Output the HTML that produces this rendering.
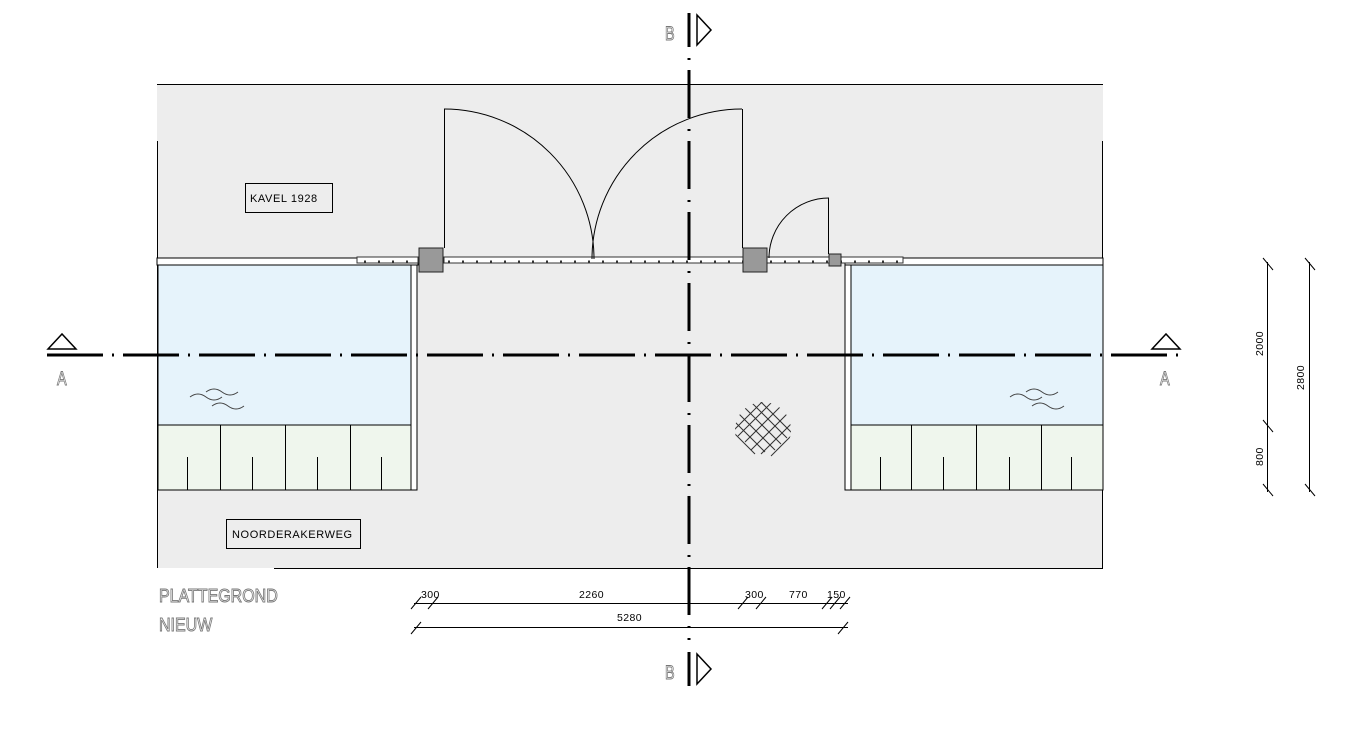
<!DOCTYPE html>
<html><head><meta charset="utf-8"><style>
body{margin:0;background:#fff;width:1347px;height:731px;overflow:hidden}
svg{display:block}
.t{font-family:"Liberation Sans",sans-serif;font-size:11px;fill:#000;letter-spacing:0.6px}
.o{font-family:"Liberation Sans",sans-serif;font-size:17px;fill:#fff;stroke:#777;stroke-width:0.8}
</style></head><body>
<svg width="1347" height="731" viewBox="0 0 1347 731">
<defs>
<pattern id="fence" x="0" y="0" width="14" height="6" patternUnits="userSpaceOnUse">
<rect width="14" height="6" fill="#fff"/><rect x="0" y="2.5" width="2" height="2" fill="#333"/>
</pattern>
</defs>
<rect x="157" y="84" width="946" height="484" fill="#ededed"/>
<line x1="157" y1="84.5" x2="1103" y2="84.5" stroke="#000"/>
<line x1="157.5" y1="141" x2="157.5" y2="568" stroke="#000"/>
<line x1="1102.5" y1="141" x2="1102.5" y2="568" stroke="#000"/>
<line x1="274" y1="568.5" x2="1103" y2="568.5" stroke="#000"/>
<rect x="157" y="258" width="261" height="7" fill="#fff" stroke="#000" stroke-width="1"/>
<rect x="158" y="265" width="253" height="160" fill="#e6f3fb" stroke="#000"/>
<rect x="411" y="265" width="6" height="225" fill="#fff" stroke="#000"/>
<rect x="158" y="425" width="253" height="65" fill="#eff6ed" stroke="#000"/>
<g stroke="#000"><line x1="220.5" y1="425" x2="220.5" y2="490"/><line x1="285.5" y1="425" x2="285.5" y2="490"/><line x1="350.5" y1="425" x2="350.5" y2="490"/>
<line x1="187.5" y1="457" x2="187.5" y2="490"/><line x1="252.5" y1="457" x2="252.5" y2="490"/><line x1="317.5" y1="457" x2="317.5" y2="490"/><line x1="381.5" y1="457" x2="381.5" y2="490"/></g>
<rect x="845" y="258" width="258" height="7" fill="#fff" stroke="#000"/>
<rect x="845" y="265" width="6" height="225" fill="#fff" stroke="#000"/>
<rect x="851" y="265" width="252" height="160" fill="#e6f3fb" stroke="#000"/>
<rect x="851" y="425" width="252" height="65" fill="#eff6ed" stroke="#000"/>
<g stroke="#000"><line x1="911.5" y1="425" x2="911.5" y2="490"/><line x1="976.5" y1="425" x2="976.5" y2="490"/><line x1="1041.5" y1="425" x2="1041.5" y2="490"/>
<line x1="880.5" y1="457" x2="880.5" y2="490"/><line x1="943.5" y1="457" x2="943.5" y2="490"/><line x1="1009.5" y1="457" x2="1009.5" y2="490"/><line x1="1071.5" y1="457" x2="1071.5" y2="490"/></g>
<g fill="none" stroke="#444" stroke-width="1">
<path d="M190 397 q8 -6 16 0 t16 0"/><path d="M206 392 q8 -6 16 0 t16 0"/><path d="M212 406 q8 -6 16 0 t16 0"/>
<path d="M1010 397 q8 -6 16 0 t16 0"/><path d="M1026 392 q8 -6 16 0 t16 0"/><path d="M1032 406 q8 -6 16 0 t16 0"/>
</g>
<rect x="357" y="257" width="61" height="6" fill="url(#fence)" stroke="#333"/>
<rect x="444" y="257" width="299" height="6" fill="url(#fence)" stroke="#333"/>
<rect x="767" y="257" width="62" height="6" fill="url(#fence)" stroke="#333"/>
<rect x="841" y="257" width="62" height="6" fill="url(#fence)" stroke="#333"/>
<rect x="419" y="248" width="24" height="24" fill="#999" stroke="#222"/>
<rect x="743" y="248" width="24" height="24" fill="#999" stroke="#222"/>
<rect x="829" y="254" width="12" height="12" fill="#999" stroke="#222"/>
<g fill="none" stroke="#000" stroke-width="1">
<line x1="444.5" y1="109" x2="444.5" y2="248"/>
<path d="M444 109 A150 150 0 0 1 594 259"/>
<line x1="742.5" y1="109" x2="742.5" y2="248"/>
<path d="M742 109 A150 150 0 0 0 592 259"/>
<line x1="828.5" y1="198" x2="828.5" y2="254"/>
<path d="M829 198 A60 60 0 0 0 769 258"/>
</g>
<clipPath id="c"><circle cx="763" cy="430" r="28"/></clipPath>
<g stroke="#333" stroke-width="1" fill="none" clip-path="url(#c)">
<path d="M735 410 l40 40 M741 404 l40 40 M735 422 l30 30 M747 398 l40 40 M735 434 l20 20 M755 396 l40 40"/>
<path d="M791 410 l-40 40 M785 402 l-40 40 M791 424 l-30 30 M778 396 l-40 40 M791 436 l-20 20 M770 394 l-40 40"/>
</g>
<rect x="245.5" y="183.5" width="87" height="29" fill="none" stroke="#000"/>
<text x="250" y="202" class="t">KAVEL 1928</text>
<rect x="226.5" y="519.5" width="134" height="29" fill="none" stroke="#000"/>
<text x="232" y="538" class="t">NOORDERAKERWEG</text>
<line x1="47" y1="355" x2="1183" y2="355" stroke="#000" stroke-width="3" stroke-dasharray="56 9 2 9"/>
<line x1="689" y1="58" x2="689" y2="640" stroke="#000" stroke-width="3" stroke-dasharray="2 10 48 11" />
<path d="M48 349 L62 334 L76 349 Z" fill="none" stroke="#000" stroke-width="1.5"/>
<path d="M1152 349 L1166 334 L1180 349 Z" fill="none" stroke="#000" stroke-width="1.5"/>
<text transform="translate(57 385) scale(0.85 1.15)" class="o">A</text>
<text transform="translate(1160 385) scale(0.85 1.15)" class="o">A</text>
<line x1="689" y1="13" x2="689" y2="47" stroke="#000" stroke-width="3"/>
<path d="M697 15 L711 30 L697 45 Z" fill="none" stroke="#000" stroke-width="1.5"/>
<text transform="translate(665 40) scale(0.85 1.15)" class="o">B</text>
<line x1="689" y1="652" x2="689" y2="686" stroke="#000" stroke-width="3"/>
<path d="M697 654 L711 669 L697 684 Z" fill="none" stroke="#000" stroke-width="1.5"/>
<text transform="translate(665 679) scale(0.85 1.15)" class="o">B</text>
<text transform="translate(159 602) scale(1 1.15)" class="o" style="font-size:16px">PLATTEGROND</text>
<text transform="translate(159 631) scale(1 1.15)" class="o" style="font-size:16px">NIEUW</text>
<g stroke="#000" stroke-width="1">
<line x1="414" y1="603.5" x2="848" y2="603.5"/>
<line x1="414" y1="627.5" x2="848" y2="627.5"/>
<path d="M411 609 l10 -12 M428 609 l10 -12 M738 609 l10 -12 M756 609 l10 -12 M822 609 l10 -12 M830 609 l10 -12 M840 609 l10 -12 M411 634 l10 -12 M838 634 l10 -12"/>
</g>
<g class="t" style="font-size:10.5px;letter-spacing:0.4px">
<text x="421" y="598">300</text><text x="579" y="598">2260</text><text x="745" y="598">300</text><text x="789" y="598">770</text><text x="827" y="598">150</text><text x="617" y="621">5280</text>
</g>
<g stroke="#000" stroke-width="1">
<line x1="1267.5" y1="262" x2="1267.5" y2="492"/>
<line x1="1309.5" y1="262" x2="1309.5" y2="492"/>
<path d="M1263 258 l10 12 M1263 420 l10 12 M1263 484 l10 12 M1305 258 l10 12 M1305 484 l10 12"/>
</g>
<g class="t" style="font-size:10.5px;letter-spacing:0.4px">
<text transform="translate(1263 356) rotate(-90)">2000</text>
<text transform="translate(1263 466) rotate(-90)">800</text>
<text transform="translate(1304 390) rotate(-90)">2800</text>
</g>
</svg>
</body></html>
